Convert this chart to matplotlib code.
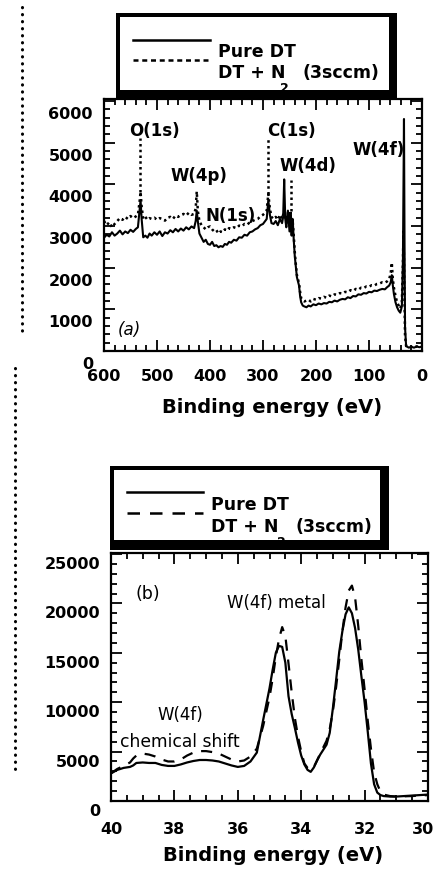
import matplotlib
matplotlib.use("Agg")
import matplotlib.pyplot as plt
from matplotlib.lines import Line2D
from matplotlib.patches import Rectangle
from matplotlib.ticker import MultipleLocator
from matplotlib.transforms import ScaledTranslation

# ---- panel (a): survey spectrum ----
ev_a = [600, 595, 590, 585, 580, 575, 570, 565, 560, 555, 550, 545, 540, 536, 533, 531, 529, 526,
        522, 518, 514, 510, 505, 500, 495, 490, 485, 480, 475, 470, 465, 460, 455, 450, 445, 440,
        435, 430, 427, 425, 423, 420, 416, 412, 408, 404, 400, 396, 392, 388, 384, 380, 376, 372,
        368, 364, 360, 355, 350, 345, 340, 335, 330, 325, 320, 315, 310, 305, 300, 296, 293, 290,
        287, 284, 280, 276, 272, 268, 264, 262, 260, 258, 256, 253, 250, 248, 246, 244, 242, 240,
        238, 236, 234, 232, 230, 228, 225, 222, 218, 214, 210, 205, 200, 195, 190, 185, 180, 175,
        170, 165, 160, 155, 150, 145, 140, 135, 130, 125, 120, 115, 110, 105, 100, 95, 90, 85, 80,
        75, 70, 66, 62, 59, 57, 55, 53, 50, 47, 44, 41, 38, 36, 35, 34, 33, 32, 30, 25, 20, 15,
        10, 5, 2]
pure_a = [2720, 2790, 2750, 2850, 2770, 2820, 2890, 2800, 2870, 2830, 2910, 2860, 2930, 2970, 3370,
          3620, 3170, 2730, 2770, 2720, 2820, 2770, 2850, 2790, 2870, 2760, 2850, 2820, 2900, 2850,
          2930, 2870, 2940, 2890, 2970, 2920, 2990, 2950, 3120, 3370, 3120, 2820, 2720, 2620, 2670,
          2570, 2550, 2620, 2520, 2540, 2490, 2520, 2500, 2570, 2550, 2620, 2600, 2670, 2650, 2730,
          2720, 2790, 2770, 2850, 2870, 2920, 2950, 3020, 3050, 3120, 3170, 3620, 3270, 3070, 3050,
          3120, 3020, 3170, 3070, 3220, 4120, 3170, 2970, 3370, 2870, 3270, 2770, 3170, 2670, 2270,
          2020, 1770, 1670, 1570, 1320, 1170, 1090, 1070, 1050, 1090, 1070, 1120, 1100, 1140, 1120,
          1150, 1140, 1180, 1170, 1210, 1190, 1230, 1250, 1240, 1290, 1270, 1320, 1310, 1360, 1350,
          1390, 1380, 1420, 1410, 1450, 1440, 1470, 1490, 1480, 1530, 1570, 1650, 1820, 1570, 1370,
          1170, 1050, 970, 920, 1070, 2170, 3870, 5570, 2670, 570, 120, 80, 100, 80, 110, 90, 100]
n2_a = [3120, 3020, 3090, 2970, 3050, 3120, 3190, 3150, 3220, 3170, 3240, 3190, 3230, 3270, 3570,
        3820, 3470, 3170, 3220, 3150, 3190, 3170, 3200, 3150, 3190, 3170, 3130, 3200, 3220, 3170,
        3250, 3220, 3270, 3290, 3250, 3320, 3270, 3290, 3420, 3830, 3370, 3120, 3020, 2970, 2920,
        2970, 2990, 2920, 2870, 2900, 2820, 2870, 2850, 2920, 2890, 2950, 2930, 2970, 2950, 3010,
        2990, 3050, 3030, 3090, 3120, 3150, 3170, 3230, 3270, 3320, 3370, 3770, 3420, 3220, 3170,
        3220, 3150, 3270, 3170, 3270, 3370, 3220, 3070, 3320, 3020, 3370, 2970, 3120, 2770, 2370,
        2070, 1820, 1720, 1620, 1420, 1270, 1220, 1190, 1210, 1230, 1190, 1250, 1230, 1270, 1260,
        1300, 1280, 1330, 1310, 1360, 1350, 1390, 1380, 1420, 1410, 1460, 1440, 1490, 1470, 1520,
        1510, 1550, 1540, 1580, 1570, 1610, 1620, 1650, 1640, 1670, 1720, 1870, 2120, 1720, 1520,
        1320, 1170, 1090, 1020, 1170, 2070, 2870, 2170, 1170, 370, 120, 90, 100, 80, 110, 90, 100]

peak_labels_a = ["O(1s)", "W(4p)", "N(1s)", "C(1s)", "W(4d)", "W(4f)"]
peak_label_ev = [553, 475, 408, 292, 268, 132]
peak_label_y = [5270, 4190, 3230, 5270, 4430, 4830]
marker_ev = [533, 290, 248]
marker_lo = [3820, 3770, 3370]
marker_hi = [5120, 5110, 4110]

# ---- panel (b): W(4f) region ----
ev_b = [40.0, 39.8, 39.6, 39.4, 39.3, 39.2, 39.0, 38.8, 38.6, 38.4, 38.2, 38.0, 37.8, 37.6, 37.4,
        37.2, 37.0, 36.8, 36.6, 36.4, 36.2, 36.0, 35.8, 35.6, 35.4, 35.2, 35.0, 34.9, 34.8, 34.7,
        34.6, 34.5, 34.4, 34.3, 34.2, 34.1, 34.0, 33.9, 33.8, 33.7, 33.6, 33.5, 33.4, 33.3, 33.2,
        33.1, 33.0, 32.9, 32.8, 32.7, 32.6, 32.5, 32.4, 32.3, 32.2, 32.1, 32.0, 31.9, 31.8, 31.7,
        31.6, 31.5, 31.4, 31.2, 31.0, 30.5, 30.0]
pure_b = [2800, 3150, 3350, 3450, 3600, 3850, 3900, 3850, 3850, 3650, 3550, 3550, 3700, 3900, 4050,
          4150, 4150, 4100, 4000, 3800, 3600, 3450, 3550, 4000, 4900, 8200, 11400, 13300, 15000, 15700,
          15600, 14000, 10600, 8800, 7400, 5900, 4600, 3700, 3150, 2950, 3400, 4100, 4700, 5200, 5700,
          6900, 9400, 12200, 15100, 17200, 18900, 19600, 19000, 17500, 15300, 12600, 10000, 7000, 3800, 1700,
          850, 600, 500, 450, 450, 550, 650]
n2_b = [2800, 3250, 3550, 3900, 4300, 4600, 4800, 4700, 4500, 4200, 4000, 4000, 4200, 4600, 4900,
        5050, 5050, 4950, 4800, 4500, 4200, 4000, 4100, 4500, 5300, 7600, 10500, 12400, 14600, 16400,
        17600, 16700, 13900, 11000, 8400, 6500, 5000, 3800, 3350, 3150, 3450, 4100, 4800, 5450, 6100,
        7300, 9100, 11500, 14300, 17200, 19600, 21300, 21800, 20600, 17700, 14300, 11300, 8100, 5300, 2900,
        1700, 950, 650, 500, 450, 500, 600]

W, H = 436, 873


def fx(px):
    return px / W


def fy(py):
    return 1 - py / H


plt.rcParams['font.family'] = ['DejaVu Sans']
plt.rcParams['font.weight'] = 'bold'

fig = plt.figure(figsize=(4.36, 8.73), dpi=100)

dotted = (0, (1, 1.3))
dashed = (0, (5, 4))


def style_axes(ax, ylab_shift, xpad):
    for s in ax.spines.values():
        s.set_linewidth(1.6)
    ax.tick_params(which='both', direction='in', top=True, right=True, width=1.3,
                   labelsize=11.5, pad=8)
    ax.tick_params(which='major', length=8)
    ax.tick_params(which='minor', length=4.5)
    ax.tick_params(axis='x', which='major', pad=xpad)
    off = ScaledTranslation(0, -ylab_shift / 100, fig.dpi_scale_trans)
    for lab in ax.get_yticklabels():
        lab.set_transform(lab.get_transform() + off)


def legend_box(x0, y0, x1, y1, xi0, yi0, xi1, yi1):
    fig.add_artist(Rectangle((fx(x0), fy(y1)), (x1 - x0) / W, (y1 - y0) / H,
                             transform=fig.transFigure, facecolor='black', edgecolor='none'))
    fig.add_artist(Rectangle((fx(xi0), fy(yi1)), (xi1 - xi0) / W, (yi1 - yi0) / H,
                             transform=fig.transFigure, facecolor='white', edgecolor='none'))


def legend_entries(xl0, xl1, y_solid, y_other, other_ls, xt, yt1, yt2, x_sub, y_sub, x_sccm):
    fig.add_artist(Line2D([fx(xl0), fx(xl1)], [fy(y_solid), fy(y_solid)],
                          transform=fig.transFigure, color='black', lw=1.8))
    fig.add_artist(Line2D([fx(xl0), fx(xl1)], [fy(y_other), fy(y_other)],
                          transform=fig.transFigure, color='black', lw=1.8, ls=other_ls))
    fig.text(fx(xt), fy(yt1), "Pure DT", fontsize=12.5, va='center', ha='left')
    fig.text(fx(xt), fy(yt2), "DT + N", fontsize=12.5, va='center', ha='left')
    fig.text(fx(x_sub), fy(y_sub), "2", fontsize=9, va='center', ha='center')
    fig.text(fx(x_sccm), fy(yt2), "(3sccm)", fontsize=12.5, va='center', ha='left')


# ---- panel (a) ----
ax_a = fig.add_axes([fx(104), fy(351), (422 - 104) / W, (351 - 99) / H])
ax_a.plot(ev_a, pure_a, color='black', lw=1.5)
ax_a.plot(ev_a, n2_a, color='black', lw=1.8, ls=dotted)
ax_a.vlines(marker_ev, marker_lo, marker_hi, colors='black', lw=1.8, linestyles=[dotted])
for lab, xe, ye in zip(peak_labels_a, peak_label_ev, peak_label_y):
    ax_a.text(xe, ye, lab, fontsize=12, ha='left', va='center')
ax_a.text(575, 505, "(a)", fontsize=12, style='italic', weight='normal', ha='left', va='center')
ax_a.set_xlim(600, 0)
ax_a.set_ylim(0, 6050)
ax_a.xaxis.set_major_locator(MultipleLocator(100))
ax_a.xaxis.set_minor_locator(MultipleLocator(20))
ax_a.yaxis.set_major_locator(MultipleLocator(1000))
ax_a.yaxis.set_minor_locator(MultipleLocator(200))
ax_a.set_xlabel("Binding energy (eV)", fontsize=14, fontweight='bold')
ax_a.xaxis.set_label_coords(0.53, -0.187)
style_axes(ax_a, 12, 13)

# ---- panel (b) ----
ax_b = fig.add_axes([fx(111), fy(801), (428 - 111) / W, (801 - 553) / H])
ax_b.plot(ev_b, pure_b, color='black', lw=1.6)
ax_b.plot(ev_b, n2_b, color='black', lw=1.6, ls=dashed)
ax_b.text(39.24, 20970, "(b)", fontsize=12.5, weight='normal', ha='left', va='center')
ax_b.text(36.34, 20060, "W(4f) metal", fontsize=12, weight='normal', ha='left', va='center')
ax_b.text(38.52, 8670, "W(4f)", fontsize=12, weight='normal', ha='left', va='center')
ax_b.text(39.72, 5980, "chemical shift", fontsize=12.3, weight='normal', ha='left', va='center')
ax_b.set_xlim(40, 30)
ax_b.set_ylim(0, 25100)
ax_b.xaxis.set_major_locator(MultipleLocator(2))
ax_b.xaxis.set_minor_locator(MultipleLocator(0.5))
ax_b.yaxis.set_major_locator(MultipleLocator(5000))
ax_b.yaxis.set_minor_locator(MultipleLocator(1000))
ax_b.set_xlabel("Binding energy (eV)", fontsize=14, fontweight='bold')
ax_b.xaxis.set_label_coords(0.511, -0.181)
style_axes(ax_b, 9, 15)

# the last x label of (b) sits a bit left of its tick in the scan
ax_b.get_xticklabels()
shift_left = ScaledTranslation(-0.05, 0, fig.dpi_scale_trans)
for tick in ax_b.xaxis.get_major_ticks():
    if abs(tick.get_loc() - 30) < 1e-6:
        tick.label1.set_transform(tick.label1.get_transform() + shift_left)

# ---- legend boxes ----
legend_box(116, 13, 397, 99, 120, 17, 389, 90)
legend_entries(133, 210, 39.5, 59.5, (0, (2, 1.5)), 218, 52, 73, 284, 88, 302)
legend_box(110, 466, 389, 550, 114, 470, 380, 540)
legend_entries(127, 203, 492, 513, dashed, 211, 505, 527, 281, 543, 295)

# dotted page-edge marks from the scan
fig.add_artist(Line2D([fx(22), fx(22)], [fy(7), fy(335)], transform=fig.transFigure,
                      color='black', lw=2.2, ls=(0, (0.1, 2.2)), dash_capstyle='round'))
fig.add_artist(Line2D([fx(15), fx(15)], [fy(368), fy(773)], transform=fig.transFigure,
                      color='black', lw=2.2, ls=(0, (0.1, 2.2)), dash_capstyle='round'))

fig.savefig("out.png", dpi=100)
